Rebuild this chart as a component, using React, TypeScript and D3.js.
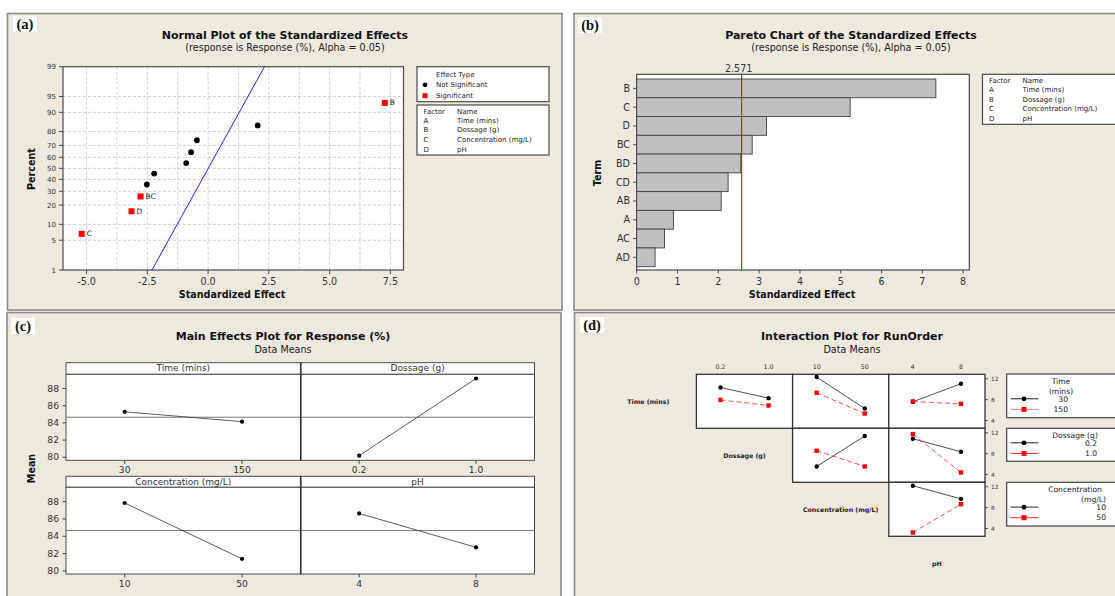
import React from 'react';
import * as d3 from 'd3';

const W = 1115;
const H = 596;
const FONT = '"DejaVu Sans", Verdana, sans-serif';
const SERIF = '"Liberation Serif", "DejaVu Serif", serif';
const BG = '#ede9df';
const EDGE = '#8a8a8a';
const FRAME = '#4a4a4a';

// shared factor legend
const factorCodes = ['A', 'B', 'C', 'D'];
const factorNames = ['Time (mins)', 'Dossage (g)', 'Concentration (mg/L)', 'pH'];

// (a) normal plot of the standardized effects
const normalTerms = ['C', 'D', 'BC', 'BD', 'CD', 'A', 'AC', 'AD', 'AB', 'B'];
const normalEffects = [-5.2, -3.15, -2.78, -2.52, -2.22, -0.9, -0.7, -0.46, 2.04, 7.27];
const normalPercents = [6.7, 16.3, 26.0, 35.6, 45.2, 54.8, 64.4, 74.0, 83.7, 93.3];
const percentTicks = [1, 5, 10, 20, 30, 40, 50, 60, 70, 80, 90, 95, 99];
const effectTicks = [-5, -2.5, 0, 2.5, 5, 7.5];
const effectGrid = [-5, -3.75, -2.5, -1.25, 0, 1.25, 2.5, 3.75, 5, 6.25, 7.5];
const fitLineEffects = [-2.31, 2.32];
const fitLinePercents = [1, 99];

// (b) pareto chart
const paretoTerms = ['B', 'C', 'D', 'BC', 'BD', 'CD', 'AB', 'A', 'AC', 'AD'];
const paretoEffects = [7.33, 5.23, 3.18, 2.83, 2.55, 2.24, 2.07, 0.9, 0.68, 0.45];
const paretoTicks = [0, 1, 2, 3, 4, 5, 6, 7, 8];
const criticalValue = 2.571;

// (c) main effects plot
const mainLevels = [['30', '150'], ['0.2', '1.0'], ['10', '50'], ['4', '8']];
const mainMeans = [[85.29, 84.14], [80.19, 89.16], [87.84, 81.4], [86.64, 82.72]];
const grandMean = 84.66;
const meanTicks = [80, 82, 84, 86, 88];

// (d) interaction plot: row factor x column factor, first/second = row factor levels
const interactionCells = [
  { row: 0, col: 1, first: [10.33, 8.28], second: [7.94, 6.87] },
  { row: 0, col: 2, first: [12.32, 6.29], second: [9.31, 5.33] },
  { row: 0, col: 3, first: [7.58, 11.04], second: [7.64, 7.19] },
  { row: 1, col: 2, first: [5.54, 11.36], second: [8.54, 5.54] },
  { row: 1, col: 3, first: [10.85, 8.35], second: [11.74, 4.38] },
  { row: 2, col: 3, first: [12.19, 9.68], second: [3.23, 8.65] },
];
const runOrderTicks = [4, 8, 12];
const legendTitles = [['Time', '(mins)'], ['Dossage (g)'], ['Concentration', '(mg/L)']];

// inverse standard normal cdf (Acklam)
function probit(p: number) {
  const a = [-39.69683028665376, 220.9460984245205, -275.9285104469687, 138.357751867269, -30.66479806614716, 2.506628277459239];
  const b = [-54.47609879822406, 161.5858368580409, -155.6989798598866, 66.80131188771972, -13.28068155288572];
  const c = [-0.007784894002430293, -0.3223964580411365, -2.400758277161838, -2.549732539343734, 4.374664141464968, 2.938163982698783];
  const d = [0.007784695709041462, 0.3224671290700398, 2.445134137142996, 3.754408661907416];
  const tail = (q: number) =>
    (((((c[0] * q + c[1]) * q + c[2]) * q + c[3]) * q + c[4]) * q + c[5]) /
    ((((d[0] * q + d[1]) * q + d[2]) * q + d[3]) * q + 1);
  if (p < 0.02425) return tail(Math.sqrt(-2 * Math.log(p)));
  if (p > 1 - 0.02425) return -tail(Math.sqrt(-2 * Math.log(1 - p)));
  const q = p - 0.5;
  const r = q * q;
  return ((((((a[0] * r + a[1]) * r + a[2]) * r + a[3]) * r + a[4]) * r + a[5]) * q) /
    (((((b[0] * r + b[1]) * r + b[2]) * r + b[3]) * r + b[4]) * r + 1);
}

const Tag = ({ x, y, text }: { x: number; y: number; text: string }) => (
  <g>
    <rect x={x} y={y} width={24} height={16} fill="#fff" />
    <text x={x + 12} y={y + 12.5} textAnchor="middle" fontFamily={SERIF} fontWeight="bold" fontSize={14.5} fill="#111">
      {text}
    </text>
  </g>
);

const Titles = ({ cx, y, title, sub }: { cx: number; y: number; title: string; sub: string }) => (
  <g fontFamily={FONT} textAnchor="middle">
    <text x={cx} y={y} fontSize={11} fontWeight="bold" fill="#111">{title}</text>
    <text x={cx} y={y + 12.5} fontSize={9.6} fill="#222">{sub}</text>
  </g>
);

const FactorLegend = ({ x, y, w }: { x: number; y: number; w: number }) => (
  <g fontFamily={FONT} fontSize={7} fill="#222">
    <rect x={x} y={y} width={w} height={50} fill="#fff" stroke={FRAME} strokeWidth={1.2} />
    <text x={x + 6.5} y={y + 8.5}>Factor</text>
    <text x={x + 40} y={y + 8.5}>Name</text>
    {factorCodes.map((f, i) => (
      <g key={f}>
        <text x={x + 6.5} y={y + 17.8 + i * 9.6}>{f}</text>
        <text x={x + 40} y={y + 17.8 + i * 9.6}>{factorNames[i]}</text>
      </g>
    ))}
  </g>
);

function NormalPanel() {
  const left = 63, right = 403.5, top = 66.7, bottom = 270;
  const x = d3.scaleLinear().domain([-5.97, 8.04]).range([left, right]);
  const z = d3.scaleLinear().domain([probit(0.01), probit(0.99)]).range([bottom, top]);
  const y = (p: number) => z(probit(p / 100));
  const fit = d3.line<number>().x((_, i) => x(fitLineEffects[i])).y(p => y(p));
  return (
    <g>
      <rect x={7.5} y={13.5} width={554.5} height={296.5} fill={BG} stroke={EDGE} strokeWidth={1.6} />
      <Tag x={13} y={16} text="(a)" />
      <Titles cx={285} y={38.5} title="Normal Plot of the Standardized Effects" sub="(response is Response (%), Alpha = 0.05)" />
      <rect x={left} y={top} width={right - left} height={bottom - top} fill="#fff" />
      {effectGrid.map(v => (
        <line key={v} x1={x(v)} x2={x(v)} y1={top} y2={bottom} stroke="#c4c4c4" strokeDasharray="3,2" strokeWidth={0.8} />
      ))}
      {percentTicks.slice(1, -1).map(p => (
        <line key={p} x1={left} x2={right} y1={y(p)} y2={y(p)} stroke="#c4c4c4" strokeDasharray="3,2" strokeWidth={0.8} />
      ))}
      <rect x={left} y={top} width={right - left} height={bottom - top} fill="none" stroke={FRAME} strokeWidth={1.2} />
      <g fontFamily={FONT} fill="#333">
        {percentTicks.map(p => (
          <g key={p}>
            <line x1={left - 4} x2={left} y1={y(p)} y2={y(p)} stroke={FRAME} />
            <text x={56} y={y(p) + 2.5} fontSize={7} textAnchor="end">{p}</text>
          </g>
        ))}
        {effectTicks.map(v => (
          <g key={v}>
            <line x1={x(v)} x2={x(v)} y1={bottom} y2={bottom + 4} stroke={FRAME} />
            <text x={x(v)} y={284.5} fontSize={9.6} textAnchor="middle">{v.toFixed(1)}</text>
          </g>
        ))}
      </g>
      <text x={232} y={297.5} fontFamily={FONT} fontSize={9.6} fontWeight="bold" textAnchor="middle" fill="#111">Standardized Effect</text>
      <text transform="translate(34.5,169) rotate(-90)" fontFamily={FONT} fontSize={9.6} fontWeight="bold" textAnchor="middle" fill="#111">Percent</text>
      <path d={fit(fitLinePercents) || ''} stroke="#2020ff" strokeWidth={1} fill="none" />
      {normalEffects.map((e, i) => {
        const sig = Math.abs(e) > criticalValue;
        const cx = x(e), cy = y(normalPercents[i]);
        return sig ? (
          <g key={i}>
            <rect x={cx - 3} y={cy - 3} width={6} height={6} fill="#ff0000" />
            <text x={cx + 5} y={cy + 2.6} fontFamily={FONT} fontSize={7.5} fill="#222">{normalTerms[i]}</text>
          </g>
        ) : (
          <circle key={i} cx={cx} cy={cy} r={2.9} fill="#000" />
        );
      })}
      <g fontFamily={FONT} fontSize={7} fill="#222">
        <rect x={417} y={66.7} width={132} height={35} fill="#fff" stroke={FRAME} strokeWidth={1.2} />
        <text x={436} y={76.5}>Effect Type</text>
        <circle cx={425} cy={84.8} r={2.4} fill="#000" />
        <text x={436} y={87.3}>Not Significant</text>
        <rect x={422.5} y={93.2} width={5} height={5} fill="#ff0000" />
        <text x={436} y={98.3}>Significant</text>
      </g>
      <FactorLegend x={417} y={105} w={132} />
    </g>
  );
}

function ParetoPanel() {
  const left = 636.7, right = 969.3, top = 74.3, bottom = 270;
  const x = d3.scaleLinear().domain([0, 8.15]).range([left, right]);
  const y = d3.scaleBand<string>().domain(paretoTerms).range([79, 266.7]).padding(0);
  return (
    <g>
      <rect x={574} y={13.5} width={560} height={296.5} fill={BG} stroke={EDGE} strokeWidth={1.6} />
      <Tag x={578} y={17} text="(b)" />
      <Titles cx={851} y={38.5} title="Pareto Chart of the Standardized Effects" sub="(response is Response (%), Alpha = 0.05)" />
      <rect x={left} y={top} width={right - left} height={bottom - top} fill="#fff" stroke={FRAME} strokeWidth={1.2} />
      {paretoTerms.map((t, i) => (
        <rect key={t} x={left} y={y(t)} width={x(paretoEffects[i]) - left} height={y.bandwidth()} fill="#c0c0c0" stroke="#404040" strokeWidth={0.9} />
      ))}
      <line x1={x(criticalValue)} x2={x(criticalValue)} y1={top} y2={bottom} stroke="#ff0000" strokeWidth={1.1} />
      <g fontFamily={FONT} fill="#333">
        <text x={x(criticalValue) - 3} y={71.5} fontSize={9.6} textAnchor="middle">{criticalValue.toFixed(3)}</text>
        {paretoTerms.map(t => (
          <g key={t}>
            <line x1={left - 3.5} x2={left} y1={y(t)! + y.bandwidth() / 2} y2={y(t)! + y.bandwidth() / 2} stroke={FRAME} />
            <text x={630} y={y(t)! + y.bandwidth() / 2 + 3.4} fontSize={9.6} textAnchor="end">{t}</text>
          </g>
        ))}
        {paretoTicks.map(v => (
          <g key={v}>
            <line x1={x(v)} x2={x(v)} y1={bottom} y2={bottom + 3.5} stroke={FRAME} />
            <text x={x(v)} y={284.5} fontSize={9.6} textAnchor="middle">{v}</text>
          </g>
        ))}
      </g>
      <text x={802} y={297.5} fontFamily={FONT} fontSize={9.6} fontWeight="bold" textAnchor="middle" fill="#111">Standardized Effect</text>
      <text transform="translate(601,173) rotate(-90)" fontFamily={FONT} fontSize={9.6} fontWeight="bold" textAnchor="middle" fill="#111">Term</text>
      <FactorLegend x={982.5} y={74.3} w={150} />
    </g>
  );
}

function MainEffectsPanel() {
  const cols = [66, 300.7, 534.5];
  const rows = [{ strip: 362.7, top: 374.3, bottom: 460.3 }, { strip: 476.3, top: 487.3, bottom: 574 }];
  return (
    <g>
      <rect x={7} y={312.5} width={554} height={300} fill={BG} stroke={EDGE} strokeWidth={1.6} />
      <Tag x={11} y={318} text="(c)" />
      <Titles cx={283} y={340} title="Main Effects Plot for Response (%)" sub="Data Means" />
      <text transform="translate(35,468.5) rotate(-90)" fontFamily={FONT} fontSize={9.6} fontWeight="bold" textAnchor="middle" fill="#111">Mean</text>
      {factorNames.map((name, k) => {
        const r = rows[Math.floor(k / 2)];
        const c = k % 2;
        const x0 = cols[c], x1 = cols[c + 1];
        const x = d3.scalePoint<string>().domain(mainLevels[k]).range([x0, x1]).padding(0.5);
        const y = d3.scaleLinear().domain([79.65, 89.65]).range([r.bottom, r.top]);
        const line = d3.line<number>().x((_, i) => x(mainLevels[k][i])!).y(v => y(v));
        return (
          <g key={name}>
            <rect x={x0} y={r.strip} width={x1 - x0} height={r.top - r.strip} fill="#fff" stroke={FRAME} strokeWidth={1} />
            <text x={(x0 + x1) / 2} y={r.strip + 8.3} fontFamily={FONT} fontSize={9} textAnchor="middle" fill="#333">{name}</text>
            <rect x={x0} y={r.top} width={x1 - x0} height={r.bottom - r.top} fill="#fff" stroke={FRAME} strokeWidth={1} />
            <line x1={x0} x2={x1} y1={y(grandMean)} y2={y(grandMean)} stroke="#777" strokeWidth={1} />
            <path d={line(mainMeans[k]) || ''} fill="none" stroke="#333" strokeWidth={0.8} />
            {mainMeans[k].map((v, i) => (
              <circle key={i} cx={x(mainLevels[k][i])} cy={y(v)} r={2.1} fill="#000" />
            ))}
            {mainLevels[k].map(l => (
              <g key={l}>
                <line x1={x(l)} x2={x(l)} y1={r.bottom} y2={r.bottom + 3.5} stroke={FRAME} />
                <text x={x(l)} y={r.bottom + 13} fontFamily={FONT} fontSize={9.2} textAnchor="middle" fill="#333">{l}</text>
              </g>
            ))}
            {c === 0 && meanTicks.map(t => (
              <g key={t}>
                <line x1={x0 - 3.5} x2={x0} y1={y(t)} y2={y(t)} stroke={FRAME} />
                <text x={59} y={y(t) + 3.2} fontFamily={FONT} fontSize={9.2} textAnchor="end" fill="#333">{t}</text>
              </g>
            ))}
          </g>
        );
      })}
      <line x1={cols[1]} x2={cols[1]} y1={rows[0].strip} y2={rows[0].bottom} stroke="#333" strokeWidth={1.6} />
      <line x1={cols[1]} x2={cols[1]} y1={rows[1].strip} y2={rows[1].bottom} stroke="#333" strokeWidth={1.6} />
    </g>
  );
}

function InteractionPanel() {
  const colX = [600.2, 696.4, 792.6, 888.8];
  const cw = 96.2;
  const rowY = [374.3, 428.3, 482.3, 536.3];
  const rh = 54;
  const axisX = colX[3] + cw;
  const legendY = [[374, 43.7], [428.3, 33], [482.3, 43.7]];
  return (
    <g>
      <rect x={574.5} y={312.5} width={560} height={300} fill={BG} stroke={EDGE} strokeWidth={1.6} />
      <Tag x={580} y={317} text="(d)" />
      <Titles cx={852} y={340} title="Interaction Plot for RunOrder" sub="Data Means" />
      {interactionCells.map((cell, i) => {
        const x0 = colX[cell.col], y0 = rowY[cell.row];
        const x = d3.scalePoint<string>().domain(mainLevels[cell.col]).range([x0, x0 + cw]).padding(0.5);
        const y = d3.scaleLinear().domain([2.5, 12.85]).range([y0 + rh, y0]);
        const line = d3.line<number>().x((_, j) => x(mainLevels[cell.col][j])!).y(v => y(v));
        return (
          <g key={i}>
            <rect x={x0} y={y0} width={cw} height={rh} fill="#fff" stroke="#333" strokeWidth={1.3} />
            <path d={line(cell.first) || ''} fill="none" stroke="#222" strokeWidth={0.8} />
            <path d={line(cell.second) || ''} fill="none" stroke="#ff2020" strokeWidth={0.8} strokeDasharray="5,3" />
            {cell.first.map((v, j) => (
              <circle key={'a' + j} cx={x(mainLevels[cell.col][j])} cy={y(v)} r={2.2} fill="#000" />
            ))}
            {cell.second.map((v, j) => (
              <rect key={'b' + j} x={x(mainLevels[cell.col][j])! - 2.2} y={y(v) - 2.2} width={4.4} height={4.4} fill="#ff0000" />
            ))}
          </g>
        );
      })}
      <g fontFamily={FONT} fill="#333">
        {[1, 2, 3].map(c => {
          const x = d3.scalePoint<string>().domain(mainLevels[c]).range([colX[c], colX[c] + cw]).padding(0.5);
          return mainLevels[c].map(l => (
            <text key={c + l} x={x(l)} y={368.5} fontSize={6.3} textAnchor="middle">{l}</text>
          ));
        })}
        {[0, 1, 2].map(r => {
          const y = d3.scaleLinear().domain([2.5, 12.85]).range([rowY[r] + rh, rowY[r]]);
          return runOrderTicks.map(t => (
            <g key={r + '-' + t}>
              <line x1={axisX} x2={axisX + 3} y1={y(t)} y2={y(t)} stroke="#333" strokeWidth={0.8} />
              <text x={991} y={y(t) + 2.1} fontSize={5.8}>{t}</text>
            </g>
          ));
        })}
        {factorNames.map((n, k) => (
          <text key={n} x={colX[k] + cw / 2} y={rowY[k] + rh / 2 + 2.5} fontSize={6.3} fontWeight="bold" textAnchor="middle" fill="#222">{n}</text>
        ))}
      </g>
      {[0, 1, 2].map(k => {
        const [ly, lh] = legendY[k];
        const titles = legendTitles[k];
        const valueX = k === 0 ? 1068 : k === 1 ? 1097 : 1106;
        const titleX = k === 0 ? 1061 : 1075;
        const rowStart = ly + 6.8 + titles.length * 10.3;
        return (
          <g key={k} fontFamily={FONT} fontSize={7.6} fill="#222">
            <rect x={1006.7} y={ly} width={130} height={lh} fill="#fff" stroke="#444" strokeWidth={1.2} />
            {titles.map((t, j) => (
              <text key={t} x={k === 2 && j === 1 ? 1106 : titleX} y={ly + 9.8 + j * 10.3} textAnchor={k === 2 && j === 1 ? 'end' : 'middle'}>{t}</text>
            ))}
            {mainLevels[k].map((lv, j) => {
              const cy = rowStart + j * 10.6 - 2.6;
              return (
                <g key={lv}>
                  <line x1={1010.5} x2={1038.3} y1={cy} y2={cy} stroke={j === 0 ? '#222' : k === 0 ? '#ff8080' : '#ff2020'} strokeWidth={1} />
                  {j === 0
                    ? <circle cx={1024} cy={cy} r={2.4} fill="#000" />
                    : <rect x={1021.5} y={cy - 2.5} width={5} height={5} fill="#ff0000" />}
                  <text x={valueX} y={cy + 2.7} textAnchor="end">{lv}</text>
                </g>
              );
            })}
          </g>
        );
      })}
    </g>
  );
}

export default function App() {
  return (
    <svg width={W} height={H} viewBox={`0 0 ${W} ${H}`} style={{ position: 'absolute', left: 0, top: 0 }}>
      <rect width={W} height={H} fill="#fff" />
      <NormalPanel />
      <ParetoPanel />
      <MainEffectsPanel />
      <InteractionPanel />
    </svg>
  );
}
